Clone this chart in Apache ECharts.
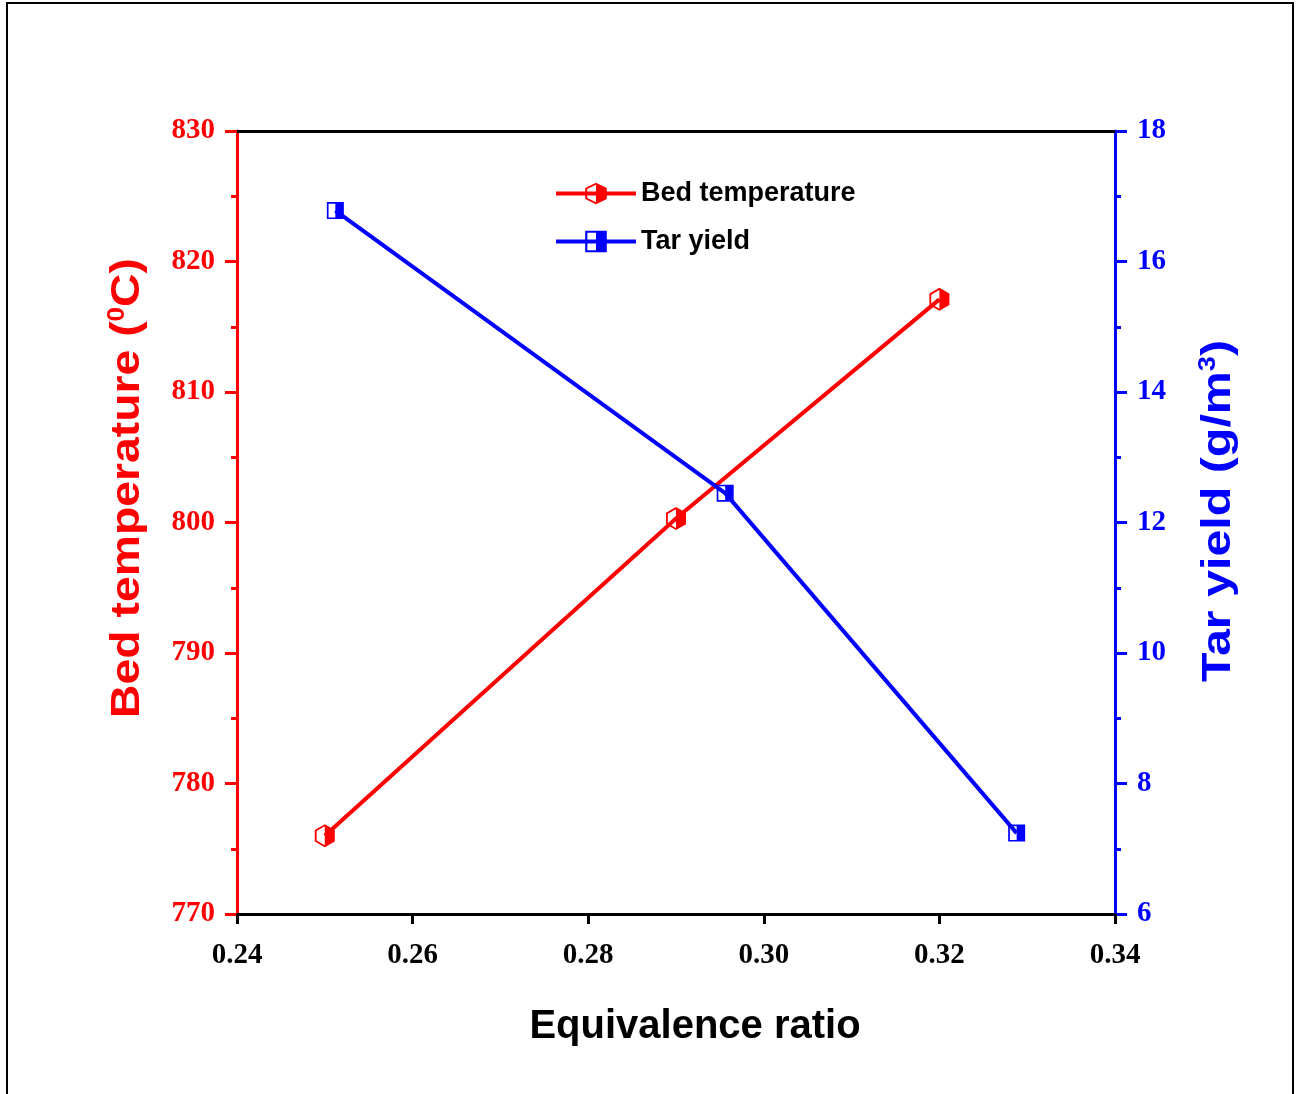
<!DOCTYPE html>
<html lang="en">
<head>
    <meta charset="utf-8">
    <title>Bed temperature and tar yield</title>
    <script src="https://cdn.jsdelivr.net/npm/echarts@6.0.0/dist/echarts.min.js"></script>
</head>
<body>
    <style type="text/css">
        html, body { height: 100%; }
        body { margin: 0; background: #fff; }
    </style>
    <div id="main" style="width:1297px;height:1094px;"></div>
    <script type="text/javascript">
        // data
        var bedX = [0.25, 0.29, 0.32];
        var bedTemp = [776.0, 800.3, 817.1];
        var tarX = [0.2512, 0.2956, 0.3288];
        var tarYield = [16.78, 12.45, 7.24];

        // half filled symbols (outline ring + right half)
        var hexSymbol = 'path://M43.5 0L87 25L87 75L43.5 100L0 75L0 25Z' +
            'M43.5 9L8 29.5L8 70.5L43.5 91L79 70.5L79 29.5Z' +
            'M43.5 0L87 25L87 75L43.5 100Z';
        var sqSymbol = 'path://M0 0L100 0L100 100L0 100Z' +
            'M10 10L10 90L90 90L90 10Z' +
            'M50 0L100 0L100 100L50 100Z';

        function pairs(xs, ys) {
            var out = [];
            for (var i = 0; i < xs.length; i++) out.push([xs[i], ys[i]]);
            return out;
        }

        var tickFont = { fontFamily: 'Liberation Serif', fontWeight: 'bold', fontSize: 29 };
        var nameFont = { fontFamily: 'Liberation Sans', fontWeight: 'bold', fontSize: 40 };

        // vertical axis titles, stretched along their length like the original
        function yTitle(x, y, text, color, stretch) {
            return {
                type: 'text',
                x: x, y: y,
                rotation: Math.PI / 2,
                scaleX: stretch,
                silent: true,
                style: {
                    text: text,
                    align: 'center',
                    verticalAlign: 'middle',
                    rich: {
                        a: { fill: color, fontFamily: 'Liberation Sans', fontWeight: 'bold', fontSize: 41, lineHeight: 44 },
                        s: { fill: color, fontFamily: 'Liberation Sans', fontWeight: 'bold', fontSize: 23, lineHeight: 44, verticalAlign: 'top', padding: [0, 0, 16, 0] }
                    }
                }
            };
        }

        var myChart = echarts.init(document.getElementById('main'));
        var option = {
            animation: false,
            grid: { left: 237, right: 182, top: 131, bottom: 180 },
            graphic: [{
                type: 'rect',
                shape: { x: 7, y: 3, width: 1286, height: 1095 },
                style: { fill: 'none', stroke: '#000', lineWidth: 2 },
                silent: true
            },
            yTitle(128, 488, '{a|Bed temperature (}{s|0}{a|C)}', '#ff0000', 1.13),
            yTitle(1219, 511, '{a|Tar yield (g/m}{s|3}{a|)}', '#0000ff', 1.18)
            ],
            legend: {
                orient: 'vertical',
                left: 549,
                top: 175,
                itemWidth: 80,
                itemHeight: 27,
                itemGap: 21,
                lineStyle: { width: 4 },
                textStyle: { color: '#000', fontFamily: 'Liberation Sans', fontWeight: 'bold', fontSize: 27 },
                data: ['Bed temperature', 'Tar yield']
            },
            xAxis: [{
                type: 'value',
                min: 0.24, max: 0.34, interval: 0.02,
                name: 'Equivalence ratio',
                nameLocation: 'middle',
                nameGap: 93,
                nameTextStyle: Object.assign({ color: '#000', padding: [0, 0, 0, 38] }, nameFont),
                axisLine: { show: true, lineStyle: { color: '#000', width: 3 } },
                axisTick: { show: true, inside: false, length: 10, lineStyle: { color: '#000', width: 3 } },
                axisLabel: Object.assign({ color: '#000', margin: 27, formatter: function (v) { return v.toFixed(2); } }, tickFont),
                splitLine: { show: false }
            }, {
                type: 'value',
                position: 'top',
                min: 0.24, max: 0.34, interval: 0.02,
                axisLine: { show: true, lineStyle: { color: '#000', width: 3 } },
                axisTick: { show: false },
                axisLabel: { show: false },
                splitLine: { show: false }
            }],
            yAxis: [{
                type: 'value',
                position: 'left',
                min: 770, max: 830, interval: 10,
                axisLine: { show: true, lineStyle: { color: '#ff0000', width: 3 } },
                axisTick: { show: true, inside: false, length: 12, lineStyle: { color: '#ff0000', width: 3 } },
                minorTick: { show: true, splitNumber: 2, length: 6, lineStyle: { color: '#ff0000', width: 3 } },
                axisLabel: Object.assign({ color: '#ff0000', margin: 22, padding: [4, 0, 0, 0] }, tickFont),
                splitLine: { show: false }
            }, {
                type: 'value',
                position: 'right',
                min: 6, max: 18, interval: 2,
                axisLine: { show: true, lineStyle: { color: '#0000ff', width: 3 } },
                axisTick: { show: true, inside: false, length: 12, lineStyle: { color: '#0000ff', width: 3 } },
                minorTick: { show: true, splitNumber: 2, length: 6, lineStyle: { color: '#0000ff', width: 3 } },
                axisLabel: Object.assign({ color: '#0000ff', margin: 22, padding: [4, 0, 0, 0] }, tickFont),
                splitLine: { show: false }
            }],
            series: [{
                name: 'Bed temperature',
                type: 'line',
                xAxisIndex: 0,
                yAxisIndex: 0,
                data: pairs(bedX, bedTemp),
                symbol: hexSymbol,
                symbolSize: [20, 23],
                lineStyle: { color: '#ff0000', width: 4 },
                itemStyle: { color: '#ff0000', borderWidth: 0 },
                z: 3
            }, {
                name: 'Tar yield',
                type: 'line',
                xAxisIndex: 0,
                yAxisIndex: 1,
                data: pairs(tarX, tarYield),
                symbol: sqSymbol,
                symbolSize: [17, 17],
                lineStyle: { color: '#0000ff', width: 4 },
                itemStyle: { color: '#0000ff', borderWidth: 0 },
                z: 3
            }]
        };
        myChart.setOption(option);
    </script>
</body>
</html>
